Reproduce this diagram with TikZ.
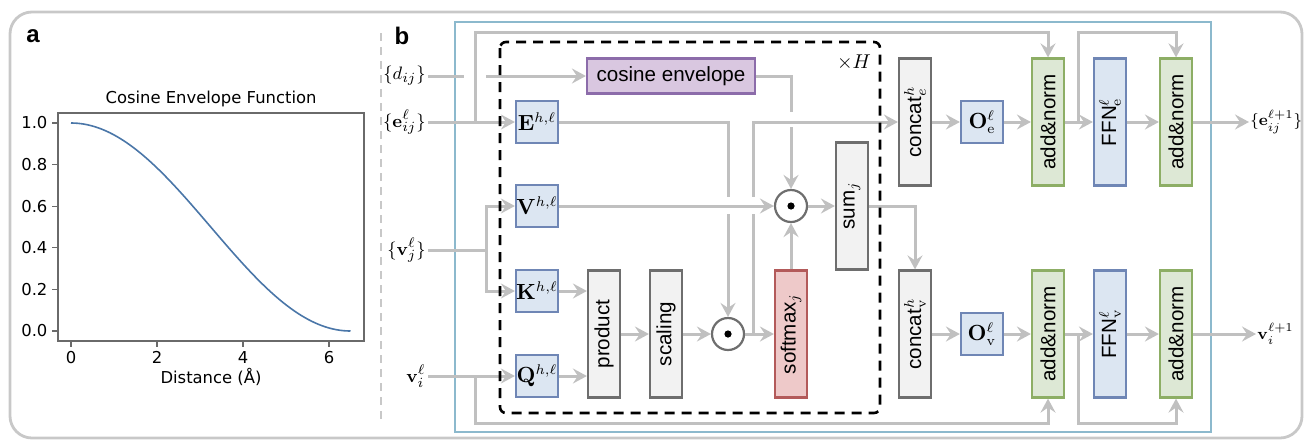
\documentclass[tikz,border=0pt]{standalone}
\usepackage{amsmath}
\usepackage{amssymb}
\usepackage[no-math]{fontspec}
\setmainfont{Liberation Sans}
\newfontfamily\plotfont{DejaVu Sans}
\usepackage{tikz}
\usetikzlibrary{arrows.meta, positioning, calc}

\definecolor{linegray}{HTML}{C0C0C0}
\definecolor{framegray}{HTML}{C8C8C8}
\definecolor{axisgray}{HTML}{6A6A6A}
\definecolor{plotblue}{HTML}{4A76A8}
\definecolor{panelblue}{HTML}{8CB9CD}
\definecolor{opfill}{HTML}{F2F2F2}
\definecolor{opborder}{HTML}{6E6E6E}
\definecolor{linfill}{HTML}{DCE6F2}
\definecolor{linborder}{HTML}{6F86B5}
\definecolor{normfill}{HTML}{DDE8D5}
\definecolor{normborder}{HTML}{8DAE65}
\definecolor{envfill}{HTML}{D9C7E0}
\definecolor{envborder}{HTML}{8C6CAA}
\definecolor{softfill}{HTML}{EEC9C9}
\definecolor{softborder}{HTML}{B35A5A}

\newcommand{\uptext}[1]{\rotatebox{90}{#1}}
\newcommand{\boxfont}{\fontsize{10.3}{12}\selectfont}

\tikzset{
    flow/.style={draw=linegray, line width=1.5pt, -{Stealth[length=7pt, width=7.5pt, inset=2.5pt]}},
    wire/.style={draw=linegray, line width=1.5pt},
    opbox/.style={draw=opborder, fill=opfill, line width=1.1pt, inner sep=0pt,
        minimum width=16pt, minimum height=63.5pt, font=\boxfont},
    normbox/.style={opbox, draw=normborder, fill=normfill},
    ffnbox/.style={opbox, draw=linborder, fill=linfill},
    softbox/.style={opbox, draw=softborder, fill=softfill},
    linbox/.style={draw=linborder, fill=linfill, line width=1.1pt, inner sep=0pt,
        minimum size=21pt, font=\fontsize{10.5}{12}\selectfont},
    envbox/.style={draw=envborder, fill=envfill, line width=1.1pt, inner sep=0pt,
        minimum width=84pt, minimum height=17.5pt, font=\boxfont},
    dotop/.style={circle, draw=opborder, fill=white, line width=1.1pt, inner sep=0pt,
        minimum size=16pt,
        path picture={\fill[black] (path picture bounding box.center) circle (1.8pt);}},
    inlabel/.style={anchor=east, inner sep=1pt, font=\fontsize{9.5}{11}\selectfont},
    outlabel/.style={anchor=west, inner sep=0.5pt, font=\fontsize{8.2}{10}\selectfont},
    panellabel/.style={font=\fontsize{12}{14}\selectfont\bfseries},
    plottext/.style={font=\plotfont\fontsize{8.2}{10}\selectfont}
}

\begin{document}
\begin{tikzpicture}[x=0.5pt, y=-0.5pt]
    \clip (0,0) rectangle (1304,440);
    \draw[framegray, line width=1.4pt, rounded corners=11pt] (10,12) rectangle (1302,438);
    \draw[framegray, line width=1pt, dash pattern=on 4pt off 3pt] (381,33) -- (381,424);

    % panel a: envelope curve
    \node[panellabel] (la) at (33,36) {a};
    \node[plottext] (ptitle) at (211,99) {Cosine Envelope Function};
    \draw[axisgray, line width=0.6pt] (58,113) rectangle (364,341);
    \foreach \t in {0,2,4,6}
        \draw[axisgray, line width=0.6pt] ({71+43*\t},341) -- ({71+43*\t},347)
            node[plottext, below, inner sep=2pt, text=black] (xt\t) {\t};
    \foreach \v [count=\i] in {0.0,0.2,0.4,0.6,0.8,1.0}
        \draw[axisgray, line width=0.6pt] (58,{331-208*\v}) -- (52,{331-208*\v})
            node[plottext, left, inner sep=2pt, text=black] (yt\i) {\v};
    \draw[plotblue, line width=0.8pt] plot[domain=0:6.5, samples=80, smooth]
        ({71+43*\x},{331-104*(1+cos(180*\x/6.5))});
    \node[plottext] (xlab) at (211,377) {Distance (Å)};

    % panel b: attention layer
    \node[panellabel] (lb) at (402,36) {b};
    \draw[panelblue, line width=1pt] (455,22) rectangle (1211,432);

    \node[inlabel] (dij) at (428,76) {$\{d_{ij}\}$};
    \node[inlabel] (eij) at (428,122) {$\{\mathbf{e}^{\ell}_{ij}\}$};
    \node[inlabel] (vj) at (428,250) {$\{\mathbf{v}^{\ell}_{j}\}$};
    \node[inlabel] (vi) at (428,376) {$\mathbf{v}^{\ell}_{i}$};

    \node[linbox] (E) at (537,122) {$\mathbf{E}^{h,\ell}$};
    \node[linbox] (V) at (537,206) {$\mathbf{V}^{h,\ell}$};
    \node[linbox] (K) at (537,291) {$\mathbf{K}^{h,\ell}$};
    \node[linbox] (Q) at (537,376) {$\mathbf{Q}^{h,\ell}$};
    \node[envbox] (cosenv) at (671,76) {cosine envelope};
    \node[opbox] (prod) at (604,334) {\uptext{product}};
    \node[opbox] (scal) at (666,334) {\uptext{scaling}};
    \node[dotop] (dot1) at (728,334) {};
    \node[softbox] (soft) at (791,334) {\uptext{softmax$_j$}};
    \node[dotop] (dot2) at (791,206) {};
    \node[opbox] (sum) at (852,206) {\uptext{sum$_j$}};
    \node[font=\fontsize{10}{12}\selectfont] (reps) at (854,62) {$\times H$};

    \node[opbox] (catE) at (915,122) {\uptext{concat$^h_e$}};
    \node[opbox] (catV) at (915,334) {\uptext{concat$^h_{\mathrm{v}}$}};
    \node[linbox] (OE) at (982,122) {$\mathbf{O}^{\ell}_{\mathrm{e}}$};
    \node[linbox] (OV) at (982,334) {$\mathbf{O}^{\ell}_{\mathrm{v}}$};
    \node[normbox] (anE1) at (1048,122) {\uptext{add\&norm}};
    \node[ffnbox] (ffnE) at (1110,122) {\uptext{FFN$^{\ell}_{\mathrm{e}}$}};
    \node[normbox] (anE2) at (1176,122) {\uptext{add\&norm}};
    \node[normbox] (anV1) at (1048,334) {\uptext{add\&norm}};
    \node[ffnbox] (ffnV) at (1110,334) {\uptext{FFN$^{\ell}_{\mathrm{v}}$}};
    \node[normbox] (anV2) at (1176,334) {\uptext{add\&norm}};
    \node[outlabel] (eout) at (1249,122) {$\{\mathbf{e}^{\ell+1}_{ij}\}$};
    \node[outlabel] (vout) at (1256,334) {$\mathbf{v}^{\ell+1}_{i}$};

    % inputs and skip lines
    \draw[flow] (dij) -- (cosenv);
    \fill[white] (464,71) rectangle (486,81);
    \coordinate (eskip) at (475,122);
    \coordinate (vskip) at (475,376);
    \coordinate (vjsplit) at (486,250);
    \draw[flow] (eij) -- (E);
    \draw[flow] (eskip) -- (475,32) -| (anE1);
    \draw[flow] (vj) -- (vjsplit) |- (V);
    \draw[flow] (vjsplit) |- (K);
    \draw[flow] (vi) -- (Q);
    \draw[flow] (vskip) -- (475,423) -| (anV1);

    % scores
    \draw[flow] (K) -- (K -| prod.west);
    \draw[flow] (Q) -- (Q -| prod.west);
    \draw[flow] (prod) -- (scal);
    \draw[flow] (scal) -- (dot1);
    \draw[flow] (dot1) -- (soft);
    \draw[flow] (soft) -- (dot2);
    \draw[flow] (cosenv) -| (dot2);
    \fill[white] (785,112) rectangle (797,127);
    \draw[flow] (E) -| (dot1);
    \coordinate (attn) at (753,334);
    \draw[flow] (attn) |- (catE);
    \fill[white] (722,197) rectangle (734,214);
    \fill[white] (747,197) rectangle (759,214);
    \draw[flow] (V) -- (dot2);
    \draw[flow] (dot2) -- (sum);
    \draw[flow] (sum) -| (catV);

    % output blocks
    \draw[flow] (catE) -- (OE);
    \draw[flow] (catV) -- (OV);
    \foreach \s in {E,V} {
        \draw[flow] (O\s) -- (an\s1);
        \draw[flow] (an\s1) -- (ffn\s);
        \draw[flow] (ffn\s) -- (an\s2);
    }
    \draw[flow] (anE2) -- (eout);
    \draw[flow] (anV2) -- (vout);
    \coordinate (ebr) at (1078,122);
    \coordinate (vbr) at (1078,334);
    \draw[flow] (ebr) -- (1078,32) -| (anE2);
    \draw[flow] (vbr) -- (1078,423) -| (anV2);

    \draw[black, line width=1.3pt, dash pattern=on 5pt off 3.5pt, rounded corners=3pt]
        (500,42) rectangle (880,413);
\end{tikzpicture}
\end{document}
